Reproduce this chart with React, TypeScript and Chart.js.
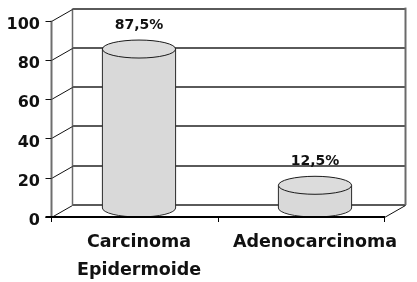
import React, { useEffect, useRef } from 'react';
import { Chart, registerables } from 'chart.js';

Chart.register(...registerables);

const categories: (string | string[])[] = [['Carcinoma', 'Epidermoide'], 'Adenocarcinoma'];
const values: number[] = [87.5, 12.5];
const valueLabels: string[] = ['87,5%', '12,5%'];
const yMin = 0;
const yMax = 100;
const yStep = 20;

const DX = 21;
const DY = 12;
const FONT = 'DejaVu Sans';

function seg(ctx: CanvasRenderingContext2D, x1: number, y1: number, x2: number, y2: number) {
  ctx.beginPath();
  ctx.moveTo(x1, y1);
  ctx.lineTo(x2, y2);
  ctx.stroke();
}

const wallsPlugin = {
  id: 'walls3d',
  beforeDatasetsDraw(chart: any) {
    const ctx: CanvasRenderingContext2D = chart.ctx;
    const y = chart.scales.y;
    const area = chart.chartArea;
    const fl = area.left + 0.5;
    const fr = area.right - 19 + 0.5;
    const bl = fl + DX;
    const br = fr + DX;
    const top = y.getPixelForValue(yMax);
    const bottom = y.getPixelForValue(yMin);
    ctx.save();
    // back wall gridlines
    ctx.strokeStyle = '#5a5a5a';
    ctx.lineWidth = 2;
    y.ticks.forEach((t: any) => {
      const py = Math.round(y.getPixelForValue(t.value) - DY);
      seg(ctx, bl, py, br, py);
    });
    // back verticals
    ctx.strokeStyle = '#6a6a6a';
    ctx.lineWidth = 1.5;
    seg(ctx, bl, top - DY, bl, bottom - DY);
    ctx.lineWidth = 2;
    seg(ctx, br, top - DY - 1, br, bottom - DY);
    // side wall diagonals
    ctx.strokeStyle = '#111';
    ctx.lineWidth = 1;
    y.ticks.forEach((t: any) => {
      const py = Math.round(y.getPixelForValue(t.value)) + 0.5;
      seg(ctx, fl, py, bl, py - DY);
    });
    // floor right diagonal
    seg(ctx, fr, Math.round(bottom) + 0.5, br, Math.round(bottom) - DY + 0.5);
    // front left axis
    ctx.strokeStyle = '#6e6e6e';
    ctx.lineWidth = 2;
    seg(ctx, fl, top, fl, bottom);
    // y tick marks
    ctx.strokeStyle = '#111';
    ctx.lineWidth = 1;
    y.ticks.forEach((t: any) => {
      const py = Math.round(y.getPixelForValue(t.value)) + 0.5;
      seg(ctx, fl - 6, py, fl, py);
    });
    ctx.restore();
  },
  afterDatasetsDraw(chart: any) {
    const ctx: CanvasRenderingContext2D = chart.ctx;
    const y = chart.scales.y;
    const area = chart.chartArea;
    const meta = chart.getDatasetMeta(0);
    const base = y.getPixelForValue(yMin);
    ctx.save();
    meta.data.forEach((el: any, i: number) => {
      const cx = el.x;
      const rx = el.width / 2;
      const ry = 9;
      const yb = base - 9;
      const yt = yb - (base - el.y) * 0.925;
      // body
      ctx.beginPath();
      ctx.moveTo(cx - rx, yt);
      ctx.lineTo(cx - rx, yb);
      ctx.ellipse(cx, yb, rx, ry, 0, Math.PI, 0, true);
      ctx.lineTo(cx + rx, yt);
      ctx.closePath();
      ctx.fillStyle = '#d9d9d9';
      ctx.fill();
      ctx.beginPath();
      ctx.moveTo(cx - rx, yt);
      ctx.lineTo(cx - rx, yb);
      ctx.ellipse(cx, yb, rx, ry, 0, Math.PI, 0, true);
      ctx.lineTo(cx + rx, yt);
      ctx.strokeStyle = '#2a2a2a';
      ctx.lineWidth = 1;
      ctx.stroke();
      // top
      ctx.beginPath();
      ctx.ellipse(cx, yt, rx, ry, 0, 0, Math.PI * 2);
      ctx.fillStyle = '#dcdcdc';
      ctx.fill();
      ctx.strokeStyle = '#1a1a1a';
      ctx.stroke();
      // value label
      ctx.fillStyle = '#111';
      ctx.font = `bold 14px "${FONT}"`;
      ctx.textAlign = 'center';
      ctx.textBaseline = 'middle';
      ctx.fillText(valueLabels[i], cx, yt - 24);
    });
    // front floor edge
    const fl = area.left + 0.5;
    const fr = area.right - 19 + 0.5;
    const by = Math.round(base);
    ctx.strokeStyle = '#000';
    ctx.lineWidth = 2;
    seg(ctx, fl - 6, by, fr, by);
    // x tick marks
    ctx.lineWidth = 1;
    const n = categories.length;
    for (let i = 0; i <= n; i++) {
      const px = Math.round(area.left + (i * (fr - fl)) / n) + 0.5;
      seg(ctx, px, by - 1, px, by + 5);
    }
    ctx.restore();
  },
};

export default function App() {
  const ref = useRef<HTMLCanvasElement | null>(null);
  useEffect(() => {
    if (!ref.current) return;
    const chart = new Chart(ref.current, {
      type: 'bar',
      data: {
        labels: categories as any,
        datasets: [
          {
            data: values,
            backgroundColor: 'rgba(0,0,0,0)',
            borderWidth: 0,
            categoryPercentage: 1,
            barPercentage: 0.416,
          },
        ],
      },
      options: {
        responsive: false,
        animation: false,
        layout: { padding: { top: 18, right: 14, left: 0, bottom: 0 } },
        plugins: { legend: { display: false }, tooltip: { enabled: false } },
        scales: {
          x: {
            grid: { display: false, drawTicks: false },
            border: { display: false },
            ticks: {
              color: '#111',
              padding: 11,
              maxRotation: 0,
              autoSkip: false,
              font: { family: FONT, size: 17.5, weight: 'bold', lineHeight: 1.6 },
            },
            afterFit(s: any) {
              s.height = 65;
            },
          },
          y: {
            min: yMin,
            max: yMax,
            grid: { display: false, drawTicks: false },
            border: { display: false },
            ticks: {
              stepSize: yStep,
              color: '#111',
              padding: 11,
              labelOffset: 4,
              font: { family: FONT, size: 16, weight: 'bold' },
            },
            afterFit(s: any) {
              s.width = 51;
            },
          },
        },
      },
      plugins: [wallsPlugin],
    } as any);
    return () => chart.destroy();
  }, []);
  return (
    <div style={{ position: 'absolute', left: 0, top: 0, width: 417, height: 282, background: '#fff' }}>
      <canvas ref={ref} width={417} height={282} />
    </div>
  );
}
